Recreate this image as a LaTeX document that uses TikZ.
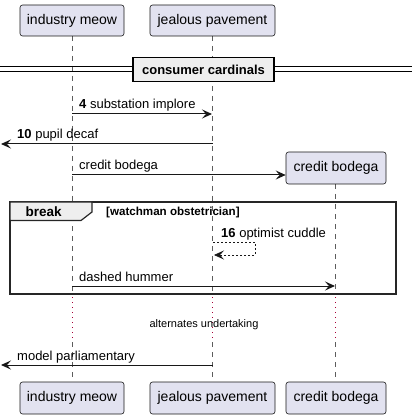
\documentclass[tikz,border=0pt]{standalone}
\usepackage{fontspec}
\setmainfont{Liberation Sans}
\usetikzlibrary{arrows.meta}
\definecolor{partfill}{HTML}{E2E2F0}
\definecolor{partline}{HTML}{181818}
\definecolor{grpfill}{HTML}{EEEEEE}
\definecolor{delayred}{HTML}{A80036}
\tikzset{
  part/.style={draw=partline, line width=0.6pt, fill=partfill, rounded corners=2.5pt, inner sep=0pt, font=\fontsize{14}{16}\selectfont, text=black},
  life/.style={draw=partline!70, line width=0.6pt, dash pattern=on 5pt off 5pt},
  lifedot/.style={draw=delayred, line width=1pt, dash pattern=on 1pt off 4pt},
  msgline/.style={draw=partline, line width=1pt, -{Stealth[length=10pt,width=9pt,inset=4pt]}},
  selfline/.style={draw=partline, line width=0.7pt, dash pattern=on 2pt off 2pt, -{Stealth[length=10pt,width=9pt,inset=4pt]}},
  msgtext/.style={font=\fontsize{13}{15}\selectfont, inner sep=0pt, anchor=base west},
}
\begin{document}
\begin{tikzpicture}[x=1pt, y=-1pt]
\useasboundingbox (0,0) rectangle (412,419);
% lifelines
\foreach \x/\t in {72/36, 212.5/36, 335.5/184} {
  \draw[life] (\x,\t) -- (\x,294);
  \draw[lifedot] (\x,297) -- (\x,342);
  \draw[life] (\x,342) -- (\x,382);
}
% participants
\node[part, minimum width=104pt, minimum height=31pt] (imT) at (72,20.5) {industry meow};
\node[part, minimum width=125pt, minimum height=31pt] (jpT) at (212.5,20.5) {jealous pavement};
\node[part, minimum width=100pt, minimum height=32pt] (cbT) at (336,168) {credit bodega};
\node[part, minimum width=104pt, minimum height=32pt] (imB) at (72,398) {industry meow};
\node[part, minimum width=125pt, minimum height=32pt] (jpB) at (212.5,398) {jealous pavement};
\node[part, minimum width=100pt, minimum height=32pt] (cbB) at (336,398) {credit bodega};
% divider
\draw[line width=1pt] (0,67) -- (412,67) (0,71.5) -- (412,71.5);
\node[draw=black, line width=1.8pt, fill=grpfill, minimum width=141pt, minimum height=24pt, inner sep=0pt, font=\bfseries\fontsize{13}{15}\selectfont] (div) at (203.5,69.5) {consumer cardinals};
% message 1
\coordinate (m1a) at (72,114); \coordinate (m1b) at (212,114);
\draw[msgline] (m1a) -- (m1b);
\node[msgtext] (t1) at (79,108.5) {\textbf{4} substation implore};
% message 2
\coordinate (m2a) at (212.5,144); \coordinate (m2b) at (1,144);
\draw[msgline] (m2a) -- (m2b);
\node[msgtext] (t2) at (17,139) {\textbf{10} pupil decaf};
% message 3 (create)
\coordinate (m3a) at (72,175);
\draw[msgline] (m3a) -- (m3a -| cbT.west);
\node[msgtext] (t3) at (79,170) {credit bodega};
% break frame
\draw[line width=1.5pt, draw=black!85] (10,202) rectangle (396,294);
\draw[line width=1.2pt, draw=black!85, fill=grpfill] (10,202) -- (92,202) -- (92,212) -- (81,220.5) -- (10,220.5) -- cycle;
\node[font=\bfseries\fontsize{13.5}{15}\selectfont, inner sep=0pt, anchor=base west] (brk) at (25.5,216) {break};
\node[font=\bfseries\fontsize{11.6}{13}\selectfont, inner sep=0pt, anchor=base west] (cond) at (106,215.5) {[watchman obstetrician]};
% self message
\coordinate (s1) at (213,242); \coordinate (s2) at (255,242); \coordinate (s3) at (255,255); \coordinate (s4) at (214,255);
\draw[selfline] (s1) -- (s2) -- (s3) -- (s4);
\node[msgtext] (t4) at (221,237.5) {\textbf{16} optimist cuddle};
% dashed hummer
\coordinate (m5a) at (72,286); \coordinate (m5b) at (335,286);
\draw[msgline] (m5a) -- (m5b);
\node[msgtext] (t5) at (79,281) {dashed hummer};
% delay text
\node[font=\fontsize{11}{13}\selectfont, inner sep=0pt, anchor=base] (dl) at (204,327) {alternates undertaking};
% model parliamentary
\coordinate (m6a) at (212.5,365); \coordinate (m6b) at (1,365);
\draw[msgline] (m6a) -- (m6b);
\node[msgtext] (t6) at (17,360.5) {model parliamentary};
\end{tikzpicture}
\end{document}
